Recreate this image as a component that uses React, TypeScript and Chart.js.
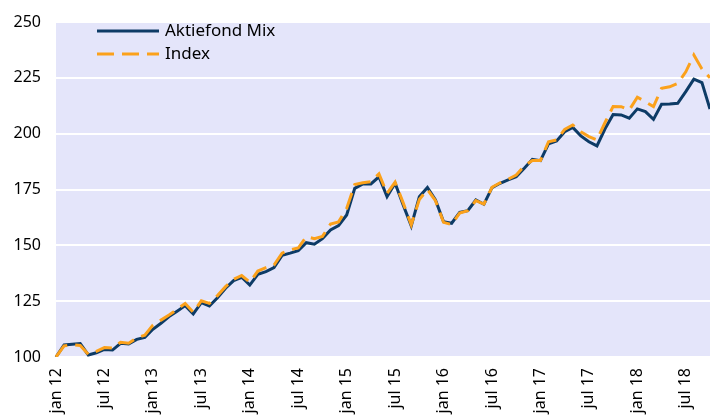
import React, { useEffect, useRef } from 'react';
import { Chart, registerables } from 'chart.js';

Chart.register(...registerables);

// Categories: monthly, jan 2012 – okt 2018
const months: string[] = [
  'jan 12', 'feb 12', 'mar 12', 'apr 12', 'maj 12', 'jun 12', 'jul 12', 'aug 12', 'sep 12', 'okt 12', 'nov 12', 'dec 12',
  'jan 13', 'feb 13', 'mar 13', 'apr 13', 'maj 13', 'jun 13', 'jul 13', 'aug 13', 'sep 13', 'okt 13', 'nov 13', 'dec 13',
  'jan 14', 'feb 14', 'mar 14', 'apr 14', 'maj 14', 'jun 14', 'jul 14', 'aug 14', 'sep 14', 'okt 14', 'nov 14', 'dec 14',
  'jan 15', 'feb 15', 'mar 15', 'apr 15', 'maj 15', 'jun 15', 'jul 15', 'aug 15', 'sep 15', 'okt 15', 'nov 15', 'dec 15',
  'jan 16', 'feb 16', 'mar 16', 'apr 16', 'maj 16', 'jun 16', 'jul 16', 'aug 16', 'sep 16', 'okt 16', 'nov 16', 'dec 16',
  'jan 17', 'feb 17', 'mar 17', 'apr 17', 'maj 17', 'jun 17', 'jul 17', 'aug 17', 'sep 17', 'okt 17', 'nov 17', 'dec 17',
  'jan 18', 'feb 18', 'mar 18', 'apr 18', 'maj 18', 'jun 18', 'jul 18', 'aug 18', 'sep 18', 'okt 18',
];

const fundValues: number[] = [
  100.0, 105.4, 105.7, 106.0, 100.9, 101.9, 103.4, 103.1, 106.1, 105.8, 107.9, 108.8,
  112.4, 115.1, 118.1, 120.5, 123.0, 119.3, 124.3, 122.8, 126.5, 130.8, 134.2, 135.7,
  132.2, 137.0, 138.2, 140.0, 145.5, 146.5, 147.6, 151.2, 150.5, 153.0, 156.9, 158.8,
  163.6, 175.5, 177.5, 177.5, 180.7, 171.8, 177.8, 168.1, 158.7, 171.8, 175.9, 170.3,
  160.6, 159.9, 164.8, 165.5, 170.3, 168.4, 175.8, 177.8, 179.3, 180.7, 184.5, 188.5,
  187.9, 195.4, 196.7, 200.9, 202.8, 199.0, 196.4, 194.5, 202.2, 208.6, 208.4, 206.9,
  211.1, 209.9, 206.4, 213.2, 213.3, 213.6, 218.8, 224.4, 222.9, 211.0,
];

const indexValues: number[] = [
  100.0, 105.0, 105.5, 105.2, 101.2, 102.5, 104.2, 104.0, 106.6, 106.2, 108.5, 109.8,
  114.3, 116.5, 118.8, 121.3, 124.0, 120.0, 125.2, 124.0, 127.5, 131.5, 134.8, 136.5,
  133.5, 138.5, 140.0, 141.2, 146.5, 148.0, 148.8, 153.9, 153.0, 154.0, 159.5, 160.5,
  166.5, 177.2, 178.0, 178.5, 182.0, 173.3, 178.3, 169.0, 159.2, 170.5, 175.0, 170.0,
  160.3, 159.3, 164.5, 165.5, 170.0, 168.5, 176.0, 178.0, 179.6, 181.5, 185.5, 188.0,
  188.0, 196.4, 197.2, 201.9, 203.9, 200.9, 198.7, 197.2, 205.0, 212.2, 212.1, 210.6,
  216.3, 214.3, 212.1, 220.3, 221.0, 222.5, 227.7, 235.2, 229.0, 225.0,
];

const seriesNames: string[] = ['Aktiefond Mix', 'Index'];
const labelledMonths: string[] = ['jan', 'jul'];
const yMin = 100;
const yMax = 250;
const yStep = 25;

const NAVY = '#0d3b66';
const ORANGE = '#fba11b';
const PLOT_BG = 'rgb(228, 229, 250)';
const FONT = '"Noto Sans", "Open Sans", sans-serif';

const plotBackground = {
  id: 'plotBackground',
  beforeDraw(chart: any) {
    const { ctx, chartArea } = chart;
    ctx.save();
    ctx.fillStyle = PLOT_BG;
    ctx.fillRect(chartArea.left, chartArea.top, chartArea.right - chartArea.left, chartArea.bottom - chartArea.top);
    ctx.restore();
  },
};

const innerLegend = {
  id: 'innerLegend',
  afterDraw(chart: any) {
    const { ctx, chartArea } = chart;
    const x0 = chartArea.left + 41;
    const x1 = x0 + 62;
    const rows = [chartArea.top + 9, chartArea.top + 32];
    const styles = [
      { color: NAVY, dash: [] as number[] },
      { color: ORANGE, dash: [17, 8] },
    ];
    ctx.save();
    seriesNames.forEach((name, i) => {
      const y = rows[i];
      ctx.beginPath();
      ctx.setLineDash(styles[i].dash);
      ctx.strokeStyle = styles[i].color;
      ctx.lineWidth = 3;
      ctx.moveTo(x0, y);
      ctx.lineTo(x1, y);
      ctx.stroke();
      ctx.setLineDash([]);
      ctx.fillStyle = '#000';
      ctx.font = `17px ${FONT}`;
      ctx.textBaseline = 'middle';
      ctx.textAlign = 'left';
      ctx.fillText(name, x1 + 6, y);
    });
    ctx.restore();
  },
};

export default function App() {
  const canvasRef = useRef<HTMLCanvasElement | null>(null);

  useEffect(() => {
    if (!canvasRef.current) return;
    const chart = new Chart(canvasRef.current, {
      type: 'line',
      data: {
        labels: months,
        datasets: [
          {
            label: seriesNames[0],
            data: fundValues,
            borderColor: NAVY,
            backgroundColor: NAVY,
            borderWidth: 3,
            pointRadius: 0,
            tension: 0,
            order: 1,
          },
          {
            label: seriesNames[1],
            data: indexValues,
            borderColor: ORANGE,
            backgroundColor: ORANGE,
            borderWidth: 3,
            borderDash: [17, 8],
            pointRadius: 0,
            tension: 0,
            order: 0,
          },
        ],
      },
      options: {
        responsive: false,
        animation: false,
        layout: {
          autoPadding: false,
          padding: { top: 22, left: 0, right: 0, bottom: 0 },
        },
        plugins: {
          legend: { display: false },
          tooltip: { enabled: false },
          title: { display: false },
        },
        scales: {
          x: {
            type: 'category',
            offset: false,
            grid: { display: false, drawTicks: false },
            border: { display: false },
            ticks: {
              autoSkip: false,
              minRotation: 90,
              maxRotation: 90,
              padding: 11,
              color: '#000',
              font: { family: FONT, size: 16 },
              callback: (_v: any, i: number) => {
                const l = months[i];
                return labelledMonths.includes(l.slice(0, 3)) ? l : null;
              },
            },
            afterFit: (s: any) => {
              s.height = 58;
              s.paddingLeft = 0;
              s.paddingRight = 0;
              s.paddingTop = 0;
              s.paddingBottom = 0;
            },
          },
          y: {
            min: yMin,
            max: yMax,
            grid: { color: '#ffffff', lineWidth: 2, drawTicks: false },
            border: { display: false },
            ticks: {
              stepSize: yStep,
              padding: 15,
              color: '#000',
              font: { family: FONT, size: 16 },
            },
            afterFit: (s: any) => {
              s.width = 56;
              s.paddingTop = 0;
              s.paddingBottom = 0;
            },
          },
        },
      },
      plugins: [plotBackground, innerLegend],
    });
    return () => chart.destroy();
  }, []);

  return (
    <div style={{ position: 'fixed', left: 0, top: 0, width: 710, height: 415, background: '#fff' }}>
      <canvas ref={canvasRef} width={710} height={415} style={{ display: 'block' }} />
    </div>
  );
}
